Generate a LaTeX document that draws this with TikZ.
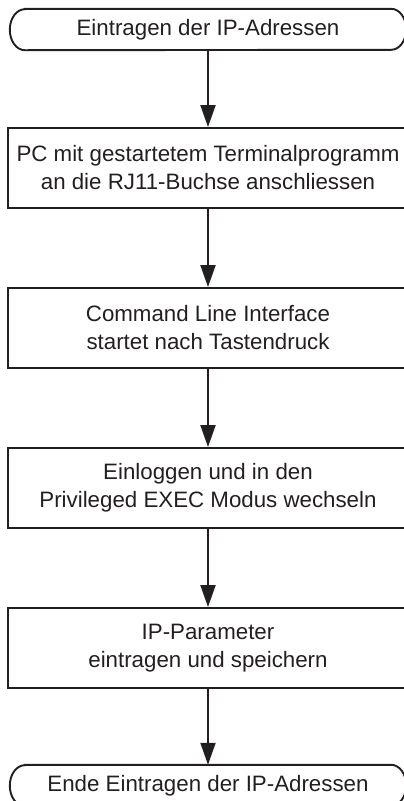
\documentclass[tikz,border=0pt]{standalone}
\usepackage{fontspec}
\setmainfont{Liberation Sans}
\usetikzlibrary{arrows.meta}
\definecolor{ink}{HTML}{231F20}
\tikzset{
  every node/.style={font=\fontsize{22.3}{28}\selectfont, text=ink, align=center, inner sep=0pt},
  stepbox/.style={draw=ink, line width=1.9pt, minimum width=400pt, minimum height=80pt},
  term/.style={minimum width=396pt, minimum height=41pt},
  termline/.style={draw=ink, line width=1.9pt},
  arr/.style={draw=ink, line width=1.9pt, -{Triangle[length=22pt,width=15pt]}}
}
\newcommand{\termoutline}[1]{%
  \draw[termline] ([xshift=15pt]#1.north west) -- ([xshift=-15pt]#1.north east)
    arc[start angle=90,end angle=-90,x radius=15pt,y radius=20.5pt]
    -- ([xshift=15pt]#1.south west)
    arc[start angle=270,end angle=90,x radius=15pt,y radius=20.5pt] -- cycle;}
\begin{document}
\begin{tikzpicture}[x=1pt,y=-1pt]
\useasboundingbox (0,0) rectangle (404,801);
\node[term] (t1) at (208,29.5) {Eintragen der IP-Adressen};
\node[stepbox] (b1) at (208,168) {PC mit gestartetem Terminalprogramm\\an die RJ11-Buchse anschliessen};
\node[stepbox] (b2) at (208,328) {Command Line Interface\\startet nach Tastendruck};
\node[stepbox] (b3) at (208,488) {Einloggen und in den\\Privileged EXEC Modus wechseln};
\node[stepbox] (b4) at (208,648) {IP-Parameter\\eintragen und speichern};
\node[term] (t2) at (208,785.5) {Ende Eintragen der IP-Adressen};
\termoutline{t1}
\termoutline{t2}
\draw[arr] (t1) -- (b1);
\draw[arr] (b1) -- (b2);
\draw[arr] (b2) -- (b3);
\draw[arr] (b3) -- (b4);
\draw[arr] (b4) -- (t2);
\end{tikzpicture}
\end{document}
